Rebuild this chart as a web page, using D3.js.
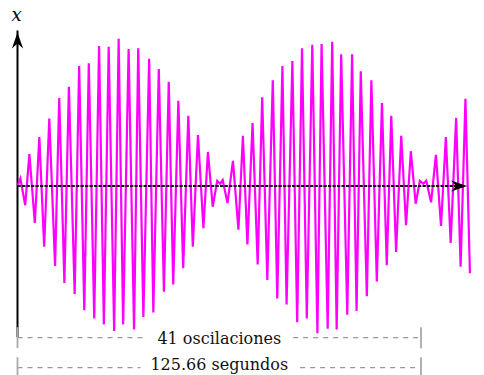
<!DOCTYPE html>
<html>
<head>
<meta charset="utf-8">
<script src="https://cdn.jsdelivr.net/npm/d3@7"></script>
<style>
  body { margin: 0; background: #fff; }
  svg { display: block; }
  .serif { font-family: 'DejaVu Serif', serif; }
</style>
</head>
<body>
<div id="chart"></div>
<script>
// samples: time in seconds, displacement x
const sampleTimes = [
  0.1, 0.9, 2.4, 3.7, 5.4, 6.8, 8.3, 9.9, 11.7, 13.0,
  14.6, 16.0, 17.8, 19.2, 20.8, 22.2, 23.9, 25.4, 26.9, 28.4,
  30.1, 31.5, 32.9, 34.6, 36.3, 37.6, 39.2, 41.0, 42.3, 44.0,
  45.6, 47.1, 48.5, 50.1, 51.6, 53.2, 54.6, 56.2, 57.9, 59.3,
  60.8, 62.2, 63.1, 63.9, 65.4, 67.1, 68.8, 70.2, 71.6, 73.2,
  74.8, 76.2, 77.8, 79.5, 80.9, 82.5, 83.8, 85.6, 87.1, 88.6,
  90.1, 91.8, 93.4, 94.7, 96.6, 98.0, 99.4, 100.8, 102.7, 104.2,
  105.6, 106.9, 108.8, 110.2, 111.9, 113.5, 115.0, 116.4, 117.9, 119.5,
  121.0, 122.5, 124.0, 125.3, 126.4, 127.3, 128.8, 130.3, 131.9, 133.4,
  134.9, 136.6, 138.0, 139.5, 140.9,
];
const sampleValues = [
  0.01, 0.10, -0.26, 0.43, -0.50, 0.66, -0.82, 0.91, -1.08, 1.19,
  -1.31, 1.34, -1.46, 1.62, -1.68, 1.66, -1.79, 1.89, -1.87, 1.88,
  -1.96, 1.99, -1.87, 1.85, -1.94, 1.86, -1.77, 1.72, -1.71, 1.58,
  -1.43, 1.41, -1.33, 1.15, -1.11, 0.95, -0.82, 0.69, -0.57, 0.46,
  -0.28, 0.07, 0.03, 0.08, -0.23, 0.34, -0.59, 0.68, -0.79, 0.85,
  -1.06, 1.20, -1.27, 1.43, -1.52, 1.62, -1.60, 1.69, -1.84, 1.86,
  -1.79, 1.91, -1.99, 1.92, -1.93, 1.95, -1.94, 1.78, -1.74, 1.78,
  -1.69, 1.55, -1.49, 1.43, -1.29, 1.12, -1.07, 0.95, -0.89, 0.68,
  -0.53, 0.47, -0.24, 0.07, 0.03, 0.07, -0.22, 0.42, -0.54, 0.66,
  -0.77, 0.92, -1.09, 1.18, -1.18,
];

const axisLabel = 'x';
const bracketLabels = ['41 oscilaciones', '125.66 segundos'];
const bracketSpan = [0, 125.66];
const axisEnd = 140;

const width = 484;
const height = 375;

const x = d3.scaleLinear()
  .domain(bracketSpan)
  .range([17.5, 421]);

const y = d3.scaleLinear()
  .domain([-2, 2])
  .range([334, 38]);

const svg = d3.select('#chart')
  .append('svg')
  .attr('width', width)
  .attr('height', height)
  .attr('viewBox', [0, 0, width, height]);

const data = sampleTimes.map((t, i) => ({ t, v: sampleValues[i] }));

const line = d3.line()
  .x((d) => x(d.t))
  .y((d) => y(d.v));

// stealth arrow head, tip at origin, pointing up
const arrowHead = 'M0,0 L5.6,16 L0,11 L-5.6,16 Z';

// vertical axis
svg.append('line')
  .attr('x1', x(0))
  .attr('x2', x(0))
  .attr('y1', 337)
  .attr('y2', y(2.1))
  .attr('stroke', '#000')
  .attr('stroke-width', 2);

svg.append('path')
  .attr('d', arrowHead)
  .attr('transform', `translate(${x(0)},${y(2.02) - 4})`)
  .attr('fill', '#000');

svg.append('text')
  .attr('class', 'serif')
  .attr('x', x(0) - 1)
  .attr('y', 21)
  .attr('text-anchor', 'middle')
  .attr('font-style', 'italic')
  .attr('font-size', 18)
  .text(axisLabel);

// signal
svg.append('path')
  .datum(data)
  .attr('fill', 'none')
  .attr('stroke', '#ff00ff')
  .attr('stroke-width', 2.2)
  .attr('stroke-linejoin', 'miter')
  .attr('d', line);

// horizontal axis, drawn over the signal
svg.append('line')
  .attr('x1', x(0))
  .attr('x2', x(axisEnd) - 6)
  .attr('y1', y(0))
  .attr('y2', y(0))
  .attr('stroke', '#111')
  .attr('stroke-width', 2)
  .attr('stroke-dasharray', '3.3,1.2');

svg.append('path')
  .attr('d', arrowHead)
  .attr('transform', `translate(${x(axisEnd)},${y(0)}) rotate(90)`)
  .attr('fill', '#000');

// brackets under the chart
const rows = [337.7, 367.7];
const baselines = [343.6, 370.3];
bracketLabels.forEach((label, i) => {
  const cy = rows[i];
  const g = svg.append('g');
  const txt = g.append('text')
    .attr('class', 'serif')
    .attr('x', (x(bracketSpan[0]) + x(bracketSpan[1])) / 2)
    .attr('y', baselines[i])
    .attr('text-anchor', 'middle')
    .attr('font-size', 16)
    .attr('fill', '#111')
    .text(label);
  const box = txt.node().getBBox();

  [[x(bracketSpan[0]), box.x - 10], [box.x + box.width + 12, x(bracketSpan[1])]]
    .forEach(([a, b]) => {
      g.append('line')
        .attr('x1', a)
        .attr('x2', b)
        .attr('y1', cy)
        .attr('y2', cy)
        .attr('stroke', '#999')
        .attr('stroke-width', 1.2)
        .attr('stroke-dasharray', '5,5');
    });

  bracketSpan.forEach((t) => {
    g.append('line')
      .attr('x1', x(t))
      .attr('x2', x(t))
      .attr('y1', cy - 10.5)
      .attr('y2', cy + 10.5)
      .attr('stroke', '#aaa')
      .attr('stroke-width', 1.8);
  });
});
</script>
</body>
</html>
